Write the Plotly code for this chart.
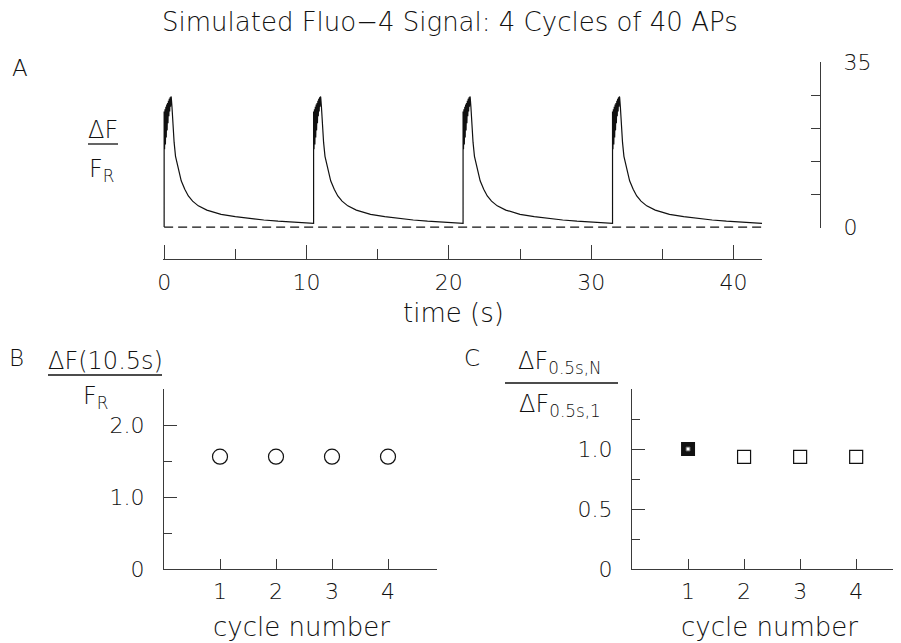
import plotly.graph_objects as go

# ---- data ----
# one stimulation cycle (40 APs): time after onset (s) and dF/F_R
cycle_t = [0.0, 0.0, 0.03, 0.06, 0.09, 0.12, 0.15, 0.18, 0.21, 0.24, 0.27, 0.30,
           0.33, 0.36, 0.39, 0.42, 0.45, 0.48, 0.50, 0.55, 0.62, 0.70, 0.80,
           1.00, 1.20, 1.45, 1.70, 2.00, 2.40, 3.00, 3.50, 4.00, 5.00, 6.00,
           7.00, 8.00, 9.00, 10.00, 10.50]
cycle_f = [0.8, 24.5, 16.5, 25.0, 17.5, 25.5, 19.0, 26.0, 20.5, 26.3, 22.0, 26.8,
           23.5, 27.2, 24.5, 27.5, 25.5, 27.7, 27.5, 25.5, 21.5, 18.0, 15.0,
           12.2, 9.8, 8.0, 6.6, 5.5, 4.5, 3.6, 3.1, 2.7, 2.2, 1.8,
           1.5, 1.25, 1.05, 0.9, 0.8]
cycle_onsets = [0.0, 10.5, 21.0, 31.5]
baseline_t = [0.0, 42.0]
baseline_f = [0.0, 0.0]

cycle_numbers = [1, 2, 3, 4]
df_105 = [1.56, 1.56, 1.56, 1.56]          # panel B
df_ratio = [1.0, 0.935, 0.935, 0.935]      # panel C

# page body adds an 8px margin, so the figure is a bit smaller than the window
OFF = 8
W, H = 901 - OFF, 643 - OFF
INK = "#111111"
AX = "#3a3a3a"
FONT = "DejaVu Sans"


def fx(px):
    return (px - OFF) / W


def fy(py):
    return 1 - (py - OFF) / H


# assemble the trace: first cycle starts from rest
sig_t, sig_f = [], []
for k, onset in enumerate(cycle_onsets):
    for i, (t, f) in enumerate(zip(cycle_t, cycle_f)):
        sig_t.append(onset + t)
        sig_f.append(0.0 if (k == 0 and i == 0) else f)

fig = go.Figure()

# panel A
fig.add_trace(go.Scatter(x=baseline_t, y=baseline_f, mode="lines",
                         line=dict(color=INK, width=1.3, dash="9px,5px"),
                         xaxis="x", yaxis="y", showlegend=False))
fig.add_trace(go.Scatter(x=sig_t, y=sig_f, mode="lines",
                         line=dict(color=INK, width=1.2),
                         xaxis="x", yaxis="y", showlegend=False))

# panel B
fig.add_trace(go.Scatter(x=cycle_numbers, y=df_105, mode="markers",
                         marker=dict(symbol="circle-open", size=15,
                                     line=dict(color=INK, width=1.2), color=INK),
                         xaxis="x2", yaxis="y2", showlegend=False))

# panel C: first cycle filled, rest open
fig.add_trace(go.Scatter(x=cycle_numbers[1:], y=df_ratio[1:], mode="markers",
                         marker=dict(symbol="square-open", size=13,
                                     line=dict(color=INK, width=1.2), color=INK),
                         xaxis="x3", yaxis="y3", showlegend=False))
fig.add_trace(go.Scatter(x=cycle_numbers[:1], y=df_ratio[:1], mode="markers",
                         marker=dict(symbol="square", size=14, color="#111111",
                                     line=dict(width=0)),
                         xaxis="x3", yaxis="y3", showlegend=False))
fig.add_trace(go.Scatter(x=cycle_numbers[:1], y=df_ratio[:1], mode="markers",
                         marker=dict(symbol="square", size=4, color="white",
                                     line=dict(color="#555555", width=1)),
                         xaxis="x3", yaxis="y3", showlegend=False))

tickfont = dict(family=FONT, size=22, color=INK, weight=300)
common = dict(showgrid=False, zeroline=False, showline=True, linecolor=AX,
              linewidth=1.3, ticks="inside", tickcolor=AX, tickwidth=1.3,
              tickfont=tickfont, automargin=False)

fig.update_layout(
    template="none",
    width=W, height=H,
    margin=dict(l=0, r=0, t=0, b=0, pad=0),
    paper_bgcolor="white", plot_bgcolor="white",
    font=dict(family=FONT, color=INK, size=22),
    xaxis=dict(domain=[fx(163), fx(762)], range=[-0.08, 42.0], anchor="free",
               position=fy(259), tickvals=[0, 10, 20, 30, 40], ticklen=14,
               minor=dict(tickvals=[5, 15, 25, 35], ticklen=10, ticks="inside",
                          tickcolor=AX, tickwidth=1.3),
               ticklabelstandoff=3, **common),
    yaxis=dict(domain=[fy(228), fy(62)], range=[-0.2, 35], anchor="free",
               position=fx(820), side="right", tickvals=[0, 35], ticklen=15,
               minor=dict(dtick=7, tick0=0, ticklen=9, ticks="inside",
                          tickcolor=AX, tickwidth=1.3),
               ticklabelstandoff=18, **common),
    xaxis2=dict(domain=[fx(164), fx(437)], range=[0, 4.875], anchor="y2",
                tickvals=cycle_numbers, ticklen=10, ticklabelstandoff=2, **common),
    yaxis2=dict(domain=[fy(569), fy(389)], range=[0, 2.5], anchor="x2",
                tickvals=[0, 1, 2], ticktext=["0", "1.0", "2.0"], ticklen=13,
                minor=dict(dtick=0.5, tick0=0, ticklen=8, ticks="inside",
                           tickcolor=AX, tickwidth=1.3),
                ticklabelstandoff=14, **common),
    xaxis3=dict(domain=[fx(632), 1.0], range=[0, 4.80], anchor="y3",
                tickvals=cycle_numbers, ticklen=10, ticklabelstandoff=2, **common),
    yaxis3=dict(domain=[fy(569), fy(389)], range=[0, 1.5], anchor="x3",
                tickvals=[0, 0.5, 1.0], ticktext=["0", "0.5", "1.0"], ticklen=13,
                minor=dict(dtick=0.25, tick0=0, ticklen=8, ticks="inside",
                           tickcolor=AX, tickwidth=1.3),
                ticklabelstandoff=14, **common),
)


def label(text, px, py, size=24, xanchor="center"):
    fig.add_annotation(text=text, x=fx(px), y=fy(py), xref="paper", yref="paper",
                       showarrow=False, xanchor=xanchor, yanchor="middle",
                       font=dict(family=FONT, size=size, color=INK, weight=300))


def bar(x0, x1, py):
    fig.add_shape(type="line", xref="paper", yref="paper",
                  x0=fx(x0), x1=fx(x1), y0=fy(py), y1=fy(py),
                  line=dict(color=INK, width=1.3))


label("Simulated Fluo\u22124 Signal: 4 Cycles of 40 APs", 450, 22, size=26)
label("A", 20, 68, size=23)
label("B", 16, 358, size=23)
label("C", 472, 358, size=23)

# panel A y label
label("\u0394F", 103, 130)
bar(88, 118, 144)
label("F<sub>R</sub>", 101, 170)
label("time (s)", 453, 313, size=26)

# panel B y label
label("\u0394F(10.5s)", 105, 361)
bar(48, 162, 375)
label("F<sub>R</sub>", 95, 397)
label("cycle number", 301, 627, size=26)

# panel C y label
label("\u0394F<sub>0.5s,N</sub>", 560, 362)
bar(505, 618, 383)
label("\u0394F<sub>0.5s,1</sub>", 560, 405)
label("cycle number", 769, 627, size=26)

fig.write_html("out.html")
